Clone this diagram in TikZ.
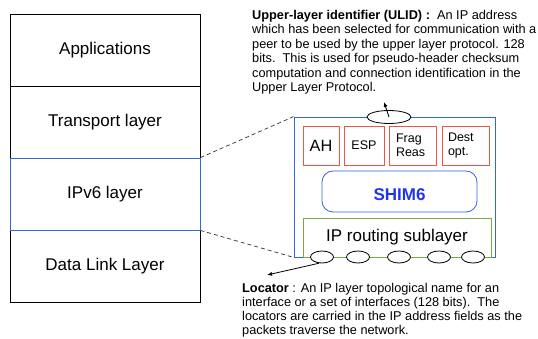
\documentclass[tikz,border=0pt]{standalone}
\usepackage{fontspec}
\setmainfont{Liberation Sans}
\usetikzlibrary{arrows.meta,shapes.geometric}
\definecolor{myblue}{RGB}{51,102,221}
\definecolor{myred}{RGB}{238,85,68}
\definecolor{mygreen}{RGB}{119,170,68}
\definecolor{shimblue}{RGB}{34,51,238}
\tikzset{
  layerbox/.style={draw=black, line width=0.8pt, minimum width=190pt, minimum height=72pt, inner sep=0pt, font=\fontsize{17}{20}\selectfont},
  redbox/.style={draw=myred, line width=0.8pt, minimum height=39pt, inner sep=0pt, font=\fontsize{12.5}{14}\selectfont},
  ell/.style={draw=black, fill=white, ellipse, line width=0.8pt, inner sep=0pt},
  dashln/.style={draw=black!80, line width=0.7pt, dash pattern=on 4pt off 3pt},
  arr/.style={draw=black, line width=0.8pt, -{Latex[length=5pt,width=4pt]}},
  note/.style={anchor=north west, inner sep=0pt, align=left, font=\fontsize{12.75}{14.4}\selectfont}
}
\begin{document}
\begin{tikzpicture}[x=1pt,y=-1pt]
\useasboundingbox (0,0) rectangle (538,338);
% left stack
\node[layerbox] (app) at (105,50) {Applications};
\node[layerbox] (trans) at (105,122) {Transport layer};
\node[layerbox] (dl) at (105,266) {Data Link Layer};
\node[layerbox, draw=myblue] (ipv6) at (105,194) {IPv6 layer};
% outer blue box
\node[draw=myblue, line width=0.8pt, minimum width=201pt, minimum height=140pt, inner sep=0pt] (outer) at (394.5,187) {};
% red boxes
\node[redbox, minimum width=36pt, font=\fontsize{16.3}{18}\selectfont] (ah) at (321,145.5) {AH};
\node[redbox, minimum width=40pt] (esp) at (364,145.5) {ESP};
\node[redbox, text width=33pt, inner xsep=7pt, align=left] (frag) at (412.5,145.5) {Frag\\Reas};
\node[redbox, text width=35pt, inner xsep=6pt, align=left] (dest) at (465.5,145.5) {Dest\\opt.};
% SHIM6
\node[draw=myblue, line width=0.8pt, rounded corners=11pt, minimum width=155pt, minimum height=41pt, inner sep=0pt, text height=18pt, text depth=0pt, text=shimblue, font=\fontsize{17}{20}\selectfont\bfseries] (shim) at (399.5,191.5) {SHIM6};
% IP routing sublayer
\node[draw=mygreen, line width=0.8pt, minimum width=188pt, minimum height=39pt, inner sep=0pt, font=\fontsize{17}{20}\selectfont] (iprout) at (397,237.5) {IP routing sublayer};
% dashed connectors
\draw[dashln] (ipv6.north east) -- (outer.north west);
\draw[dashln] (ipv6.south east) -- (outer.south west);
% ellipses
\node[ell, minimum width=44pt, minimum height=13pt] (top) at (389,117) {};
\node[ell, minimum width=23pt, minimum height=12pt] (e1) at (322,257) {};
\node[ell, minimum width=23pt, minimum height=12pt] (e2) at (358,257) {};
\node[ell, minimum width=23pt, minimum height=12pt] (e3) at (399,257) {};
\node[ell, minimum width=23pt, minimum height=12pt] (e4) at (439,257) {};
\node[ell, minimum width=23pt, minimum height=12pt] (e5) at (473,257) {};
% arrows
\coordinate (ulidtip) at (384,102);
\coordinate (loctip) at (267,275);
\draw[arr] (top.center) -- (ulidtip);
\draw[arr] (e1.245) -- (loctip);
% texts
\node[note] (ulid) at (252,10) {\textbf{Upper-layer identifier (ULID) :}\ \ An IP address\\which has been selected for communication with a\\peer to be used by the upper layer protocol. 128\\bits.\ \ This is used for pseudo-header checksum\\computation and connection identification in the\\Upper Layer Protocol.};
\node[note, font=\fontsize{12.75}{13.7}\selectfont] (loc) at (242,283.5) {\textbf{Locator} : An IP layer topological name for an\\interface or a set of interfaces (128 bits).\ \ The\\locators are carried in the IP address fields as the\\packets traverse the network.};
\end{tikzpicture}
\end{document}
